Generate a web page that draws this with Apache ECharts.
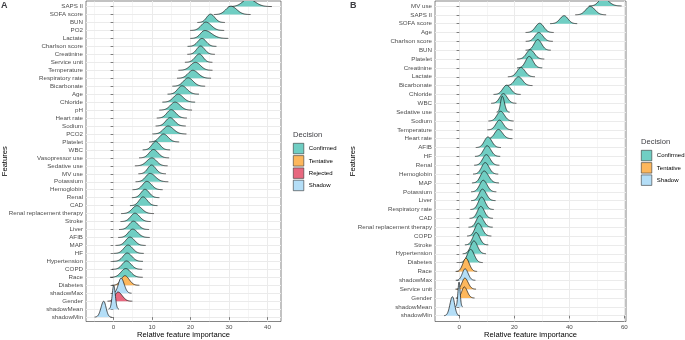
<!DOCTYPE html>
<html>
<head>
<meta charset="utf-8">
<script src="https://cdn.jsdelivr.net/npm/echarts@6/dist/echarts.min.js"></script>
<style>
  html, body { margin: 0; padding: 0; background: #fff; }
  #chart { width: 685px; height: 340px; }
</style>
</head>
<body>
<div id="chart"></div>
<script>
// ---- panel A (top -> bottom) ----
const featuresA = ['SAPS II', 'SOFA score', 'BUN', 'PO2', 'Lactate', 'Charlson score', 'Creatinine', 'Service unit',
  'Temperature', 'Respiratory rate', 'Bicarbonate', 'Age', 'Chloride', 'pH', 'Heart rate', 'Sodium', 'PCO2', 'Platelet',
  'WBC', 'Vasopressor use', 'Sedative use', 'MV use', 'Potassium', 'Hemoglobin', 'Renal', 'CAD',
  'Renal replacement therapy', 'Stroke', 'Liver', 'AFIB', 'MAP', 'HF', 'Hypertension', 'COPD', 'Race', 'Diabetes',
  'shadowMax', 'Gender', 'shadowMean', 'shadowMin']
const decisionA = ['C', 'C', 'C', 'C', 'C', 'C', 'C', 'C', 'C', 'C', 'C', 'C', 'C', 'C', 'C', 'C', 'C', 'C', 'C', 'C',
  'C', 'C', 'C', 'C', 'C', 'C', 'C', 'C', 'C', 'C', 'C', 'C', 'C', 'C', 'C', 'T', 'S', 'R', 'S', 'S']
const peakA = [35.0, 30.5, 25.2, 24.0, 23.7, 23.0, 22.6, 22.3, 21.3, 20.6, 19.4, 17.8, 16.8, 16.0, 15.0, 14.7, 14.2, 13.0,
  11.0, 10.4, 10.0, 9.9, 9.5, 8.7, 8.2, 7.7, 6.1, 5.6, 5.2, 5.0, 4.3, 3.8, 3.6, 3.4, 3.2, 3.0, 2.0, 1.2, 0.1, -2.5]
const spreadLeftA = [1.5, 1.3, 1.0, 1.2, 1.1, 1.1, 1.0, 1.1, 1.3, 1.2, 1.2, 1.1, 1.2, 1.2, 1.1, 1.1, 1.2, 1.1, 1.0, 1.1,
  1.3, 1.0, 1.1, 1.1, 1.0, 1.0, 1.2, 1.1, 1.1, 1.1, 1.1, 1.1, 1.1, 1.1, 1.2, 1.0, 0.7, 0.8, 0.4, 0.7]
const spreadRightA = [1.8, 1.5, 1.1, 1.4, 1.8, 1.1, 1.1, 1.0, 1.3, 1.4, 1.3, 1.3, 1.3, 1.3, 1.2, 1.2, 1.4, 1.2, 1.1, 1.2,
  1.2, 1.1, 1.4, 1.2, 1.1, 1.1, 1.3, 1.2, 1.2, 1.3, 1.2, 1.2, 1.2, 1.2, 1.3, 1.1, 0.8, 1.1, 0.4, 0.6]
const heightA = [0.95, 1.05, 1.05, 1.05, 1.0, 1.0, 1.05, 1.05, 1.0, 1.0, 1.05, 1.05, 1.0, 1.0, 1.05, 1.05, 1.0, 1.0,
  1.05, 1.05, 1.0, 1.1, 1.05, 1.05, 1.05, 1.1, 1.0, 1.05, 1.05, 1.05, 1.05, 1.05, 1.05, 1.05, 1.1, 1.2, 1.9, 1.15, 3.0, 2.0]
const xTicksA = [0, 10, 20, 30, 40]
const xMinorA = [-5, 5, 15, 25, 35]

// ---- panel B (top -> bottom) ----
const featuresB = ['MV use', 'SAPS II', 'SOFA score', 'Age', 'Charlson score', 'BUN', 'Platelet', 'Creatinine', 'Lactate',
  'Bicarbonate', 'Chloride', 'WBC', 'Sedative use', 'Sodium', 'Temperature', 'Heart rate', 'AFIB', 'HF', 'Renal',
  'Hemoglobin', 'MAP', 'Potassium', 'Liver', 'Respiratory rate', 'CAD', 'Renal replacement therapy', 'COPD', 'Stroke',
  'Hypertension', 'Diabetes', 'Race', 'shadowMax', 'Service unit', 'Gender', 'shadowMean', 'shadowMin']
const decisionB = ['C', 'C', 'C', 'C', 'C', 'C', 'C', 'C', 'C', 'C', 'C', 'C', 'C', 'C', 'C', 'C', 'C', 'C', 'C', 'C',
  'C', 'C', 'C', 'C', 'C', 'C', 'C', 'C', 'C', 'C', 'T', 'S', 'T', 'T', 'S', 'S']
const peakB = [52.2, 47.6, 38.1, 29.2, 28.9, 28.5, 25.8, 25.4, 22.4, 21.5, 17.2, 16.0, 15.6, 15.0, 14.6, 14.2, 10.4, 10.1,
  9.8, 9.4, 9.0, 8.7, 8.4, 8.1, 7.8, 7.4, 6.9, 6.1, 5.3, 4.1, 2.4, 2.1, 2.0, 1.8, -0.1, -2.5]
const spreadLeftB = [1.5, 1.6, 1.5, 1.5, 1.4, 1.3, 1.4, 1.3, 1.4, 1.4, 1.4, 1.3, 0.6, 1.3, 1.3, 1.3, 1.3, 1.3, 1.3, 1.3,
  1.3, 1.3, 1.2, 1.2, 1.2, 1.2, 1.2, 1.2, 1.2, 1.2, 1.1, 1.0, 1.0, 0.9, 0.4, 0.9]
const spreadRightB = [2.0, 1.7, 1.4, 1.5, 1.5, 1.4, 1.5, 1.4, 1.5, 1.5, 1.5, 1.4, 0.8, 1.4, 1.4, 1.5, 1.4, 1.4, 1.4, 1.4,
  1.6, 1.4, 1.4, 1.3, 1.3, 1.4, 1.4, 1.3, 1.3, 1.3, 1.2, 1.1, 1.2, 1.1, 0.4, 0.8]
const heightB = [0.9, 0.95, 0.9, 1.05, 1.0, 1.2, 1.05, 1.3, 1.05, 1.0, 1.05, 1.1, 1.8, 1.1, 1.1, 1.05, 1.2, 1.2, 1.2,
  1.3, 1.35, 1.3, 1.3, 1.4, 1.35, 1.3, 1.45, 1.4, 1.45, 1.5, 1.5, 1.3, 1.25, 1.25, 2.8, 2.15]
const xTicksB = [0, 20, 40, 60]
const xMinorB = [10, 30, 50]

const decisionNames = { C: 'Confirmed', T: 'Tentative', R: 'Rejected', S: 'Shadow' }
const fills = { C: '#70cec3', T: '#fdb75c', R: '#e8687f', S: '#b4def7' }
const font = '"Liberation Sans", Arial, sans-serif'

function ridgeRenderer(decisions) {
  return function (params, api) {
    const mu = api.value(0), base = api.value(1)
    const sl = api.value(2), sr = api.value(3), h = api.value(4)
    const x0 = mu - 3.4 * sl, x1 = mu + 3.4 * sr
    const pts = []
    const n = 48
    for (let k = 0; k <= n; k++) {
      const x = x0 + (x1 - x0) * k / n
      const s = x < mu ? sl : sr
      const d = Math.exp(-0.5 * ((x - mu) / s) * ((x - mu) / s))
      pts.push(api.coord([x, base + h * d]))
    }
    const area = pts.concat([api.coord([x1, base]), api.coord([x0, base])])
    return {
      type: 'group',
      children: [
        { type: 'polygon', shape: { points: area }, style: { fill: fills[decisions[params.dataIndex]], stroke: null } },
        { type: 'polyline', shape: { points: pts }, style: { stroke: '#111', lineWidth: 0.7, fill: null } }
      ]
    }
  }
}

function ridgeData(peaks, sl, sr, hs) {
  const n = peaks.length
  return peaks.map((p, i) => [p, n - 1 - i, sl[i], sr[i], hs[i]])
}

function xAxes(gridIndex, min, max, ticks, minor) {
  return [
    {
      gridIndex, type: 'value', min, max,
      axisLine: { show: false },
      axisTick: { show: true, length: 2.75, customValues: ticks, lineStyle: { color: '#333', width: 0.6 } },
      axisLabel: { customValues: ticks, fontSize: 6.2, color: '#4d4d4d', margin: 2.5, fontFamily: font },
      splitLine: { show: true, lineStyle: { color: '#ebebeb', width: 1 } },
      name: 'Relative feature importance', nameLocation: 'middle', nameGap: 9.5, nameMoveOverlap: false,
      nameTextStyle: { fontSize: 7.6, color: '#000', fontFamily: font }
    },
    {
      gridIndex, type: 'value', min, max, position: 'top',
      axisLine: { show: false },
      axisTick: { show: false, customValues: minor },
      axisLabel: { show: false, customValues: minor },
      splitLine: { show: true, lineStyle: { color: '#ebebeb', width: 0.5 } }
    }
  ]
}

function yAxis(gridIndex, min, max, names, nameGap) {
  const n = names.length
  const idx = names.map((_, i) => i)
  return {
    gridIndex, type: 'value', min, max,
    axisLine: { show: false },
    axisTick: { show: true, length: 2.75, customValues: idx, lineStyle: { color: '#333', width: 0.6 } },
    axisLabel: {
      customValues: idx, fontSize: 6.2, color: '#4d4d4d', margin: 3, fontFamily: font,
      formatter: v => names[n - 1 - Math.round(v)]
    },
    splitLine: { show: true, lineStyle: { color: '#ebebeb', width: 1 } },
    name: 'Features', nameLocation: 'middle', nameGap, nameMoveOverlap: false,
    nameTextStyle: { fontSize: 7.6, color: '#000', fontFamily: font }
  }
}

const chart = echarts.init(document.getElementById('chart'), null, { renderer: 'canvas' })

const legendSeries = ['C', 'T', 'R', 'S'].map(k => ({
  name: decisionNames[k], type: 'custom', xAxisIndex: 0, yAxisIndex: 0,
  data: [], renderItem: () => null, itemStyle: { color: fills[k] }
}))

const legendCommon = {
  orient: 'vertical', icon: 'rect', itemWidth: 10.5, itemHeight: 10.5, itemGap: 1.2, padding: 0,
  selectedMode: false, textStyle: { fontSize: 6.0, color: '#000', fontFamily: font },
  itemStyle: { borderColor: '#333', borderWidth: 0.6 }
}

chart.setOption({
  animation: false,
  backgroundColor: '#fff',
  title: [
    { text: 'A', left: 1, top: 1, padding: 0, textStyle: { fontSize: 9, fontWeight: 'bold', fontFamily: font } },
    { text: 'B', left: 350, top: 1, padding: 0, textStyle: { fontSize: 9, fontWeight: 'bold', fontFamily: font } },
    { text: 'Decision', left: 293, top: 131, padding: 0, textStyle: { fontSize: 7.6, fontWeight: 'normal', fontFamily: font } },
    { text: 'Decision', left: 641, top: 138, padding: 0, textStyle: { fontSize: 7.6, fontWeight: 'normal', fontFamily: font } }
  ],
  legend: [
    Object.assign({ left: 293, top: 143, data: ['Confirmed', 'Tentative', 'Rejected', 'Shadow'] }, legendCommon),
    Object.assign({ left: 641, top: 150, data: ['Confirmed', 'Tentative', 'Shadow'] }, legendCommon)
  ],
  grid: [
    { left: 86, top: 1, width: 195, height: 320.5, outerBoundsMode: 'none', containLabel: false,
      show: true, borderColor: '#333', borderWidth: 0.6, backgroundColor: '#fff' },
    { left: 435, top: 1, width: 191, height: 320.5, outerBoundsMode: 'none', containLabel: false,
      show: true, borderColor: '#333', borderWidth: 0.6, backgroundColor: '#fff' }
  ],
  xAxis: [
    ...xAxes(0, -7.1, 43.5, xTicksA, xMinorA),
    ...xAxes(1, -8.84, 60.6, xTicksB, xMinorB)
  ],
  yAxis: [
    yAxis(0, -0.55, 39.7, featuresA, 77.5),
    yAxis(1, -0.655, 35.56, featuresB, 78.5)
  ],
  series: [
    ...legendSeries,
    {
      name: 'ridgesA', type: 'custom', xAxisIndex: 0, yAxisIndex: 0, clip: true,
      encode: { x: 0, y: 1 },
      data: ridgeData(peakA, spreadLeftA, spreadRightA, heightA),
      renderItem: ridgeRenderer(decisionA)
    },
    {
      name: 'ridgesB', type: 'custom', xAxisIndex: 2, yAxisIndex: 1, clip: true,
      encode: { x: 0, y: 1 },
      data: ridgeData(peakB, spreadLeftB, spreadRightB, heightB),
      renderItem: ridgeRenderer(decisionB)
    }
  ]
})
</script>
</body>
</html>
